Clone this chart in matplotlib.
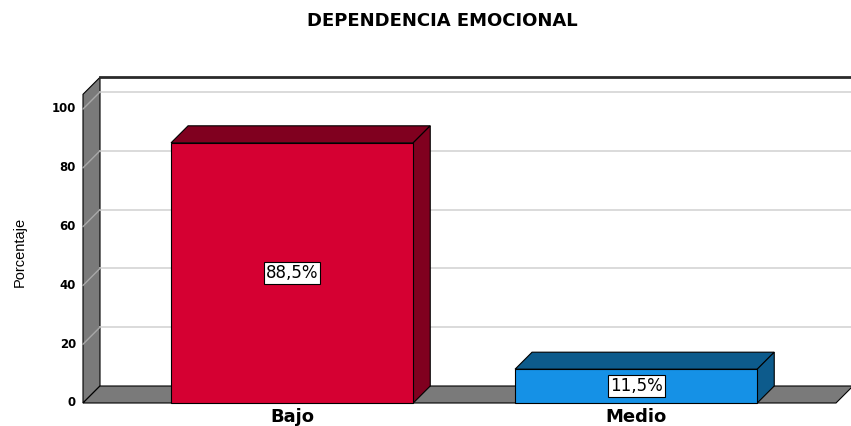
import matplotlib
matplotlib.use("Agg")
from matplotlib import pyplot as plt
from matplotlib.patches import Polygon, Rectangle

categories = ["Bajo", "Medio"]
values = [88.5, 11.5]
value_labels = ["88,5%", "11,5%"]
yticks = [0, 20, 40, 60, 80, 100]

front_colors = ["#d50032", "#1591e6"]
dark_colors = ["#80001f", "#0d5b8c"]

W, H = 851, 426
PX_X = 344.0     # pixels per category step
PX_Y = 2.94      # pixels per percent
X0 = -0.608      # left front edge of the chart box
WALL_TOP = 105
DX = 17 / PX_X   # depth offset in data units
DY = 17 / PX_Y
HALF = 0.352

fig = plt.figure(figsize=(W / 100, H / 100), dpi=100)
ax = fig.add_axes([83 / W, 23 / H, (W - 83) / W, 327 / H])
ax.set_xlim(X0, X0 + (W - 83) / PX_X)
ax.set_ylim(0, 327 / PX_Y)
ax.axis("off")

def poly(pts, fc, ec="black", lw=0.8, z=1):
    ax.add_patch(Polygon(pts, closed=True, fc=fc, ec=ec, lw=lw, zorder=z, clip_on=False))

right = X0 + (W - 83) / PX_X + 0.2

# back wall
poly([(X0 + DX, DY), (right, DY), (right, WALL_TOP + DY), (X0 + DX, WALL_TOP + DY)], "white", ec="none", z=0)
ax.plot([X0 + DX, right], [WALL_TOP + DY] * 2, color="#2a2a2a", lw=2, zorder=2, clip_on=False)

# side wall
poly([(X0, 0), (X0 + DX, DY), (X0 + DX, WALL_TOP + DY), (X0, WALL_TOP)], "#7a7a7a", z=1)

# grid lines on back wall and side wall
for v in yticks[1:]:
    ax.plot([X0 + DX, right], [v + DY] * 2, color="#d4d4d4", lw=1.2, zorder=1, clip_on=False)
    ax.plot([X0, X0 + DX], [v, v + DY], color="#a8a8a8", lw=1, zorder=2, clip_on=False)

# floor
floor_right = (836 - 83) / PX_X + X0
poly([(X0, 0), (floor_right, 0), (floor_right + DX, DY), (right, DY), (X0 + DX, DY)], "#7a7a7a", z=2)

# bars
for i, (v, fc, dc) in enumerate(zip(values, front_colors, dark_colors)):
    l, r = i - HALF, i + HALF
    poly([(l, v), (l + DX, v + DY), (r + DX, v + DY), (r, v)], dc, z=3)
    poly([(r, 0), (r + DX, DY), (r + DX, v + DY), (r, v)], dc, z=3)
    ax.add_patch(Rectangle((l, 0), r - l, v, fc=fc, ec="black", lw=0.8, zorder=4, clip_on=False))
    ax.text(i, v / 2, value_labels[i], ha="center", va="center", fontsize=12, zorder=6,
            bbox=dict(boxstyle="square,pad=0.12", fc="white", ec="black", lw=0.8))

# y tick labels
for v in yticks:
    ax.annotate(str(v), (X0, v), xytext=(-5, 0), textcoords="offset points",
                ha="right", va="center", fontsize=8.5, fontweight="bold", annotation_clip=False)

# category labels
for i, name in enumerate(categories):
    ax.annotate(name, (i, 0), xytext=(0, -10), textcoords="offset points",
                ha="center", va="center", fontsize=13, fontweight="bold", annotation_clip=False)

fig.text(20 / W, 1 - 252 / H, "Porcentaje", rotation=90, ha="center", va="center",
         fontsize=10.5, family=["Liberation Sans", "DejaVu Sans"])
fig.text(442 / W, 1 - 21 / H, "DEPENDENCIA EMOCIONAL", ha="center", va="center",
         fontsize=13, fontweight="bold")

fig.savefig("out.png", dpi=100)
